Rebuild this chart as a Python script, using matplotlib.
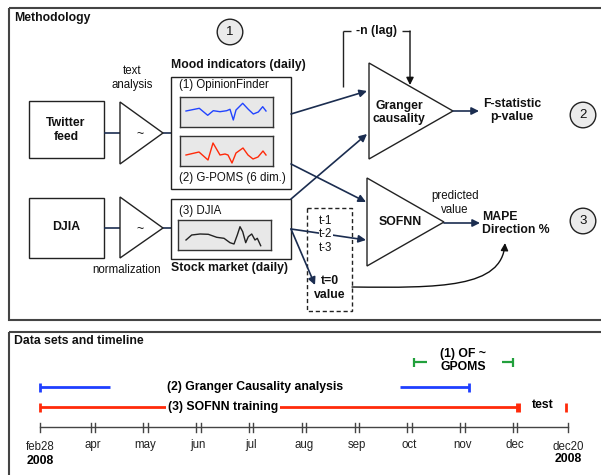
import matplotlib
matplotlib.use('Agg')
import matplotlib.pyplot as plt
from matplotlib.patches import Rectangle, Polygon, Circle, FancyArrowPatch
from matplotlib.path import Path

plt.rcParams['font.family'] = ['Liberation Sans', 'DejaVu Sans']

# ---------------- data ----------------
# sparkline: OpinionFinder (blue)
of_x = [6, 19.3, 27.7, 33.3, 40, 46.7, 50, 53.3, 56, 62.7, 68.3, 73.3, 78.3, 82.7, 86]
of_y = [16, 18.7, 11.7, 16.3, 15.3, 16.3, 17.7, 7, 17, 23.7, 17.7, 13, 15, 20.3, 16]
# sparkline: G-POMS (red)
gp_x = [6, 19, 28, 33, 40, 45, 48, 52, 56, 63, 68, 73, 78, 83, 86]
gp_y = [11, 14, 6, 23, 11, 12, 11, 3, 13, 18, 11, 7, 9, 15, 11]
# sparkline: DJIA (black)
dj_x = [8, 13.7, 22, 30.3, 38.7, 46, 52, 56, 59.3, 62, 64.7, 67.7, 70.3, 73.7, 77, 79.3, 82.7]
dj_y = [10, 15, 16, 15.7, 12.7, 11.7, 7.3, 6, 15, 23.3, 18.3, 7.3, 13.3, 16, 10, 11.7, 4.3]

# timeline
months = ['feb28', 'apr', 'may', 'jun', 'jul', 'aug', 'sep', 'oct', 'nov', 'dec', 'dec20']
granger_segments = [(0.0, 1.326), (6.818, 8.125)]
sofnn_train = (0.0, 9.053)
test_mark = 9.956
of_gpoms_segments = [(7.083, 7.33), (8.75, 8.958)]

NAVY = '#1b2d50'
EDGE = '#222222'
RED = '#ff2a0a'
BLUE = '#1f3fff'
GREEN = '#22a03c'
BOLD = 8.8
NORM = 8.3
LS = 1.2

fig = plt.figure(figsize=(6.01, 4.75), dpi=100)
ax = fig.add_axes([0, 0, 1, 1])
ax.set_xlim(0, 601)
ax.set_ylim(475, 0)
ax.axis('off')

def rect(x0, y0, x1, y1, lw=1.0, ec=EDGE, fc='white', ls='-', z=1):
    ax.add_patch(Rectangle((x0, y0), x1 - x0, y1 - y0, lw=lw, ec=ec, fc=fc, ls=ls, zorder=z))

def tri(pts):
    ax.add_patch(Polygon(pts, closed=True, fc='white', ec=EDGE, lw=1.0, zorder=3))

def arrow(p0, p1, color=NAVY, lw=1.2):
    ax.add_patch(FancyArrowPatch(p0, p1, arrowstyle='-|>', mutation_scale=11,
                                 color=color, lw=lw, shrinkA=0, shrinkB=0, zorder=4))

def line(xs, ys, color=NAVY, lw=1.2):
    ax.plot(xs, ys, color=color, lw=lw, zorder=2, solid_capstyle='butt')

def txt(x, y, s, size=NORM, weight='normal', ha='center', va='center', bg=None, color='#111111'):
    kw = {}
    if bg:
        kw['bbox'] = dict(fc=bg, ec='none', pad=0.6)
    ax.text(x, y, s, fontsize=size, fontweight=weight, ha=ha, va=va, color=color,
            zorder=5, linespacing=LS, **kw)

def circ(x, y, s):
    ax.add_patch(Circle((x, y), 12.8, fc='#ebebeb', ec=EDGE, lw=1.0, zorder=3))
    txt(x, y, s, size=9.5)

# ---------- frames ----------
rect(9, 8, 620, 320, lw=1.5, ec='#444444', fc='none')
rect(9, 332, 620, 500, lw=1.5, ec='#444444', fc='none')
txt(14, 18, 'Methodology', size=BOLD, weight='bold', ha='left')
txt(14, 341, 'Data sets and timeline', size=BOLD, weight='bold', ha='left')

# ---------- methodology ----------
circ(230, 32, '1')
circ(583, 115, '2')
circ(583, 221, '3')

# Twitter feed
rect(29, 101, 104, 158, z=2)
txt(66, 130, 'Twitter\nfeed', size=BOLD, weight='bold')
line([104, 120], [133, 133])
tri([(120, 102), (120, 164), (163, 133)])
txt(140, 134, '~', size=9)
line([163, 171], [133, 133])
txt(132, 78, 'text\nanalysis', size=NORM)

# DJIA
rect(29, 198, 104, 258, z=2)
txt(66, 227, 'DJIA', size=BOLD, weight='bold')
line([104, 120], [228, 228])
tri([(120, 197), (120, 258), (163, 228)])
txt(140, 229, '~', size=9)
line([163, 171], [228, 228])
txt(127, 270, 'normalization', size=NORM)

# Mood indicators box
rect(171, 77, 291, 189, z=2)
txt(171, 65, 'Mood indicators (daily)', size=BOLD, weight='bold', ha='left')
txt(179, 85, '(1) OpinionFinder', size=NORM, ha='left')
txt(179, 178, '(2) G-POMS (6 dim.)', size=NORM, ha='left')

# Stock market box
rect(171, 199, 291, 259, z=2)
txt(179, 211, '(3) DJIA', size=NORM, ha='left')
txt(171, 268, 'Stock market (daily)', size=BOLD, weight='bold', ha='left')

def spark(x0, y0, x1, y1, xs, ys, color):
    W, H = 601.0, 475.0
    a = fig.add_axes([x0 / W, 1 - y1 / H, (x1 - x0) / W, (y1 - y0) / H])
    a.set_facecolor('#e8e8e8')
    a.set_xlim(0, x1 - x0)
    a.set_ylim(0, y1 - y0)
    a.set_xticks([]); a.set_yticks([])
    for s in a.spines.values():
        s.set_color('#333333'); s.set_linewidth(1.0)
    a.plot(xs, ys, color=color, lw=1.0)

spark(180, 97, 273, 127, of_x, of_y, '#2244ff')
spark(180, 136, 273, 166, gp_x, gp_y, '#ff2a0a')
spark(178, 220, 271, 250, dj_x, dj_y, '#222222')

# Granger triangle
tri([(369, 63), (369, 159), (453, 111)])
txt(399, 112.5, 'Granger\ncausality', size=BOLD, weight='bold')
# lag bracket
line([343, 343], [87, 31], color=EDGE, lw=1.0)
line([343, 351], [31, 31], color=EDGE, lw=1.0)
line([402, 410], [31, 31], color=EDGE, lw=1.0)
arrow((410, 31), (410, 85), color='#111111', lw=1.0)
txt(376, 31, '-n (lag)', size=BOLD, weight='bold')
arrow((453, 111), (479, 111))
txt(512, 110.5, 'F-statistic\np-value', size=BOLD, weight='bold')

# inputs to Granger / SOFNN
arrow((291, 114), (367, 91))
arrow((291, 199), (367, 134))
arrow((291, 164), (366, 202))

# SOFNN triangle
tri([(367, 178), (367, 266), (444, 222)])
txt(400, 222, 'SOFNN', size=BOLD, weight='bold')
arrow((444, 223), (480, 223))
txt(455, 203, 'predicted\nvalue', size=NORM)
txt(482, 223.5, 'MAPE\nDirection %', size=BOLD, weight='bold', ha='left')

# dashed lag box
rect(307, 208, 352, 311, ls=(0, (3, 2)), lw=1.0, ec='#222222', fc='none', z=2)
arrow((291, 229), (366, 240))
arrow((291, 229), (315, 285))
txt(326, 221, 't-1', size=NORM, bg='white')
txt(326, 234, 't-2', size=NORM, bg='white')
txt(326, 248, 't-3', size=NORM, bg='white')
txt(330, 288, 't=0\nvalue', size=BOLD, weight='bold')

curve = Path([(352, 287), (440, 288), (502, 288), (505, 243)],
             [Path.MOVETO, Path.CURVE4, Path.CURVE4, Path.CURVE4])
ax.add_patch(FancyArrowPatch(path=curve, arrowstyle='-|>', mutation_scale=11,
                             color='#111111', lw=1.0, zorder=4))

# ---------------- timeline ----------------
step = 52.8
x0px = 40.0
axt = fig.add_axes([0, 0, 1, 1])
axt.set_xlim(-x0px / step, (601 - x0px) / step)
axt.set_ylim(475, 0)
axt.axis('off')
axt.patch.set_alpha(0)

AXY = 427
axt.plot([0, len(months) - 1], [AXY, AXY], color='#444444', lw=1.0)
for i, m in enumerate(months):
    if i in (0, len(months) - 1):
        axt.plot([i, i], [AXY - 4.5, AXY + 4.5], color='#444444', lw=1.0)
    else:
        for d in (-2.2 / step, 2.2 / step):
            axt.plot([i + d, i + d], [AXY - 4.5, AXY + 4.5], color='#444444', lw=1.0)
    axt.text(i, 446.5 if i in (0, len(months) - 1) else 445, m, fontsize=NORM,
             ha='center', va='center', color='#222222')
axt.text(0, 461, '2008', fontsize=BOLD, fontweight='bold', ha='center', va='center')
axt.text(len(months) - 1, 459, '2008', fontsize=BOLD, fontweight='bold', ha='center', va='center')

def cap(x, y, color, lw=2.0):
    axt.plot([x, x], [y - 4.5, y + 4.5], color=color, lw=lw, solid_capstyle='butt')

# SOFNN training (red)
RY = 407
axt.plot(sofnn_train, [RY, RY], color=RED, lw=2.0, solid_capstyle='butt')
cap(sofnn_train[0], RY, RED)
cap(sofnn_train[1], RY, RED, lw=3.5)
axt.text(4.2 - 0.73, RY, '(3) SOFNN training', fontsize=BOLD, fontweight='bold',
         ha='center', va='center', bbox=dict(fc='white', ec='none', pad=1.5))
axt.text((543 - x0px) / step, 405, 'test', fontsize=BOLD, fontweight='bold', ha='center', va='center')
cap(test_mark, RY, RED, lw=2.0)

# Granger (blue)
BY = 387
for s, e in granger_segments:
    axt.plot([s, e], [BY, BY], color=BLUE, lw=2.0, solid_capstyle='butt')
cap(granger_segments[0][0], BY, BLUE)
cap(granger_segments[-1][1], BY, BLUE)
axt.text((255 - x0px) / step, BY, '(2) Granger Causality analysis', fontsize=BOLD,
         fontweight='bold', ha='center', va='center')

# OF ~ GPOMS (green)
GY = 362
for s, e in of_gpoms_segments:
    axt.plot([s, e], [GY, GY], color=GREEN, lw=1.6, solid_capstyle='butt')
cap(of_gpoms_segments[0][0], GY, GREEN, lw=1.6)
cap(of_gpoms_segments[-1][1], GY, GREEN, lw=1.6)
axt.text((463 - x0px) / step, 360.5, '(1) OF ~\nGPOMS', fontsize=BOLD, fontweight='bold',
         ha='center', va='center', linespacing=LS)

fig.savefig('out.png', dpi=100)
